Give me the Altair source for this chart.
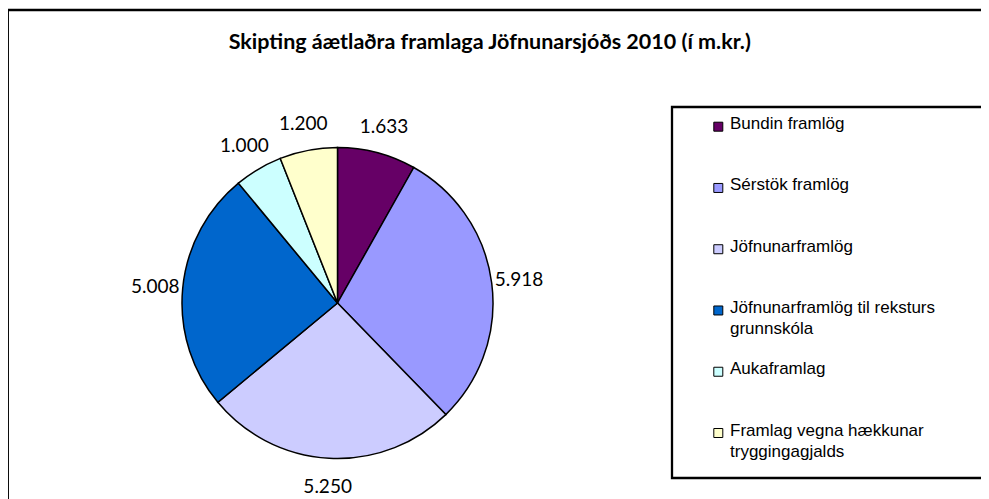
import altair as alt
import pandas as pd

categories = [
    "Bundin framlög",
    "Sérstök framlög",
    "Jöfnunarframlög",
    "Jöfnunarframlög til reksturs grunnskóla",
    "Aukaframlag",
    "Framlag vegna hækkunar tryggingagjalds",
]
legend_labels = [
    "Bundin framlög",
    "Sérstök framlög",
    "Jöfnunarframlög",
    "Jöfnunarframlög til reksturs|grunnskóla",
    "Aukaframlag",
    "Framlag vegna hækkunar|tryggingagjalds",
]
values = [1633, 5918, 5250, 5008, 1000, 1200]
value_labels = ["1.633", "5.918", "5.250", "5.008", "1.000", "1.200"]
colors = ["#660066", "#9999FF", "#CCCCFF", "#0066CC", "#CCFFFF", "#FFFFCC"]

df = pd.DataFrame({
    "idx": list(range(len(categories))),
    "category": categories,
    "legend_label": legend_labels,
    "value": values,
    "label": value_labels,
})

CX, CY, R = 327.5, 293, 155.5

color = alt.Color("category:N", scale=alt.Scale(domain=categories, range=colors), legend=None)
yleg = alt.Y("category:N", scale=alt.Scale(type="point", domain=categories, range=[116.7, 423], padding=0), axis=None)

base = alt.Chart(df)

pie = base.mark_arc(outerRadius=R, stroke="black", strokeWidth=1.5).encode(
    theta=alt.Theta("value:Q", stack=True),
    color=color,
    order=alt.Order("idx:Q"),
    x=alt.value(CX),
    y=alt.value(CY),
)

labels = base.mark_text(radius=183, font="Lato", fontSize=19, color="black", dy=1).encode(
    theta=alt.Theta("value:Q", stack=True),
    order=alt.Order("idx:Q"),
    text="label:N",
    x=alt.value(CX),
    y=alt.value(CY),
)

frame_df = pd.DataFrame({"box": ["frame"]})
frame = alt.Chart(frame_df).mark_rect(filled=False, stroke="black", strokeWidth=2.3).encode(
    x=alt.value(-2.2), x2=alt.value(1100), y=alt.value(0), y2=alt.value(600)
)
legbox = alt.Chart(frame_df).mark_rect(filled=False, stroke="black", strokeWidth=2.3).encode(
    x=alt.value(662), x2=alt.value(1100), y=alt.value(97), y2=alt.value(468)
)

leg_sq = base.mark_square(size=81, stroke="black", strokeWidth=1, opacity=1, filled=True).encode(
    x=alt.value(708.3), y=yleg, color=color
)
leg_text = base.mark_text(
    align="left", baseline="top", dy=-10.5, lineBreak="|", font="Liberation Sans",
    fontSize=17, lineHeight=21, color="black"
).encode(x=alt.value(720), y=yleg, text="legend_label:N")

chart = alt.layer(frame, legbox, pie, labels, leg_sq, leg_text).properties(
    width=971,
    height=489,
    autosize=alt.AutoSizeParams(type="none"),
    padding={"left": 2, "top": 2, "right": 0, "bottom": 0},
    title=alt.TitleParams(
        "Skipting áætlaðra framlaga Jöfnunarsjóðs 2010 (í m.kr.)",
        font="Lato", fontSize=21.5, fontWeight="bold", color="black",
        anchor="start", orient="top", baseline="alphabetic", offset=-62, dx=222,
    ),
).configure_view(stroke=None)

chart.save("out.html", embed_options={"renderer": "svg", "actions": False})
